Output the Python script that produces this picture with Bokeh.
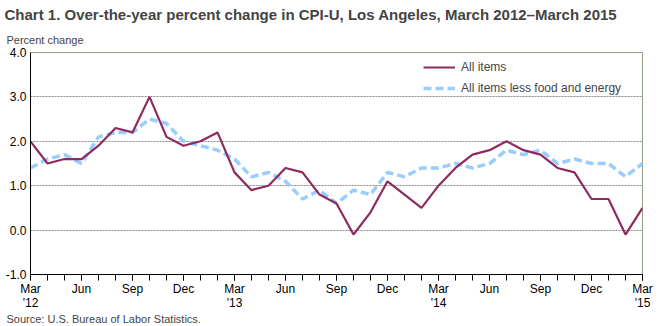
from bokeh.plotting import figure
from bokeh.models import (Range1d, FixedTicker, Title, Legend, LegendItem,
                          PrintfTickFormatter, ColumnDataSource)
from bokeh.embed import file_html
from bokeh.resources import INLINE

months = ["Mar 2012", "Apr 2012", "May 2012", "Jun 2012", "Jul 2012", "Aug 2012",
          "Sep 2012", "Oct 2012", "Nov 2012", "Dec 2012", "Jan 2013", "Feb 2013",
          "Mar 2013", "Apr 2013", "May 2013", "Jun 2013", "Jul 2013", "Aug 2013",
          "Sep 2013", "Oct 2013", "Nov 2013", "Dec 2013", "Jan 2014", "Feb 2014",
          "Mar 2014", "Apr 2014", "May 2014", "Jun 2014", "Jul 2014", "Aug 2014",
          "Sep 2014", "Oct 2014", "Nov 2014", "Dec 2014", "Jan 2015", "Feb 2015",
          "Mar 2015"]
all_items = [2.0, 1.5, 1.6, 1.6, 1.9, 2.3, 2.2, 3.0, 2.1, 1.9, 2.0, 2.2,
             1.3, 0.9, 1.0, 1.4, 1.3, 0.8, 0.6, -0.1, 0.4, 1.1, 0.8, 0.5,
             1.0, 1.4, 1.7, 1.8, 2.0, 1.8, 1.7, 1.4, 1.3, 0.7, 0.7, -0.1,
             0.5]
core = [1.4, 1.6, 1.7, 1.5, 2.1, 2.2, 2.2, 2.5, 2.4, 2.0, 1.9, 1.8,
        1.6, 1.2, 1.3, 1.1, 0.7, 0.9, 0.6, 0.9, 0.8, 1.3, 1.2, 1.4,
        1.4, 1.5, 1.4, 1.5, 1.8, 1.7, 1.8, 1.5, 1.6, 1.5, 1.5, 1.2,
        1.5]
tick_labels = {0: "Mar\n'12", 3: "Jun", 6: "Sep", 9: "Dec", 12: "Mar\n'13",
               15: "Jun", 18: "Sep", 21: "Dec", 24: "Mar\n'14", 27: "Jun",
               30: "Sep", 33: "Dec", 36: "Mar\n'15"}
y_ticks = [-1, 0, 1, 2, 3, 4]

FONT = "Liberation Sans"

idx = list(range(len(months)))
src = ColumnDataSource(dict(x=idx, all_items=all_items, core=core))

p = figure(width=659, height=326, output_backend="svg", toolbar_location=None,
           x_range=Range1d(0, len(months) - 1), y_range=Range1d(-1, 4),
           min_border_left=30, min_border_right=17, min_border_top=6,
           min_border_bottom=8, title=None)

p.add_layout(Title(text="Percent change", text_font=FONT, text_font_size="11px",
                   text_font_style="normal", align="left", offset=-24,
                   standoff=13), "above")
p.add_layout(Title(text="Chart 1. Over-the-year percent change in CPI-U, Los Angeles, March 2012\u2013March 2015",
                   text_font=FONT, text_font_size="15px", text_font_style="bold",
                   align="left", offset=-26, standoff=6), "above")

p.outline_line_color = "#8FA08A"
p.outline_line_width = 1

# grid
p.xgrid.grid_line_color = None
p.ygrid.ticker = FixedTicker(ticks=y_ticks)
p.ygrid.grid_line_color = "#8A8A8A"
p.ygrid.grid_line_dash = "2 1"
p.ygrid.grid_line_width = 1

# y axis
p.yaxis.ticker = FixedTicker(ticks=y_ticks)
p.yaxis.formatter = PrintfTickFormatter(format="%.1f")
p.yaxis.major_tick_line_color = None
p.yaxis.minor_tick_line_color = None
p.yaxis.major_tick_out = 0
p.yaxis.major_tick_in = 0
p.yaxis.minor_tick_out = 0
p.yaxis.minor_tick_in = 0
p.yaxis.axis_line_color = "black"
p.yaxis.major_label_text_font = FONT
p.yaxis.major_label_text_font_size = "12px"
p.yaxis.major_label_text_color = "black"
p.yaxis.major_label_standoff = 4

# x axis
p.xaxis.ticker = FixedTicker(ticks=list(tick_labels.keys()), minor_ticks=idx)
p.xaxis.major_label_overrides = tick_labels
p.xaxis.axis_line_color = "black"
p.xaxis.major_tick_line_color = "black"
p.xaxis.minor_tick_line_color = "black"
p.xaxis.major_tick_in = 0
p.xaxis.major_tick_out = 6
p.xaxis.minor_tick_in = 0
p.xaxis.minor_tick_out = 6
p.xaxis.major_label_text_font = FONT
p.xaxis.major_label_text_font_size = "12px"
p.xaxis.major_label_text_line_height = 1.0
p.xaxis.major_label_text_color = "black"
p.xaxis.major_label_standoff = 1

p.add_layout(Title(text="Source: U.S. Bureau of Labor Statistics.", text_font=FONT,
                   text_font_size="11px", text_font_style="normal", align="left",
                   offset=-24, standoff=0, text_line_height=0.6,
                   vertical_align="top"), "below")

r_core = p.line("x", "core", source=src, line_color="#99CCFF", line_width=3.5,
                line_dash="8 4")
r_all = p.line("x", "all_items", source=src, line_color="#8E2B5E", line_width=2.2)

legend = Legend(items=[LegendItem(label="All items", renderers=[r_all]),
                       LegendItem(label="All items less food and energy", renderers=[r_core])],
                location=(393, 176), border_line_color=None,
                background_fill_alpha=0, label_text_font=FONT,
                label_text_font_size="12px", glyph_width=32, glyph_height=20,
                label_height=20, spacing=1, padding=0, margin=0,
                label_standoff=6)
p.add_layout(legend, "center")

open("out.html", "w").write(file_html(p, INLINE))
